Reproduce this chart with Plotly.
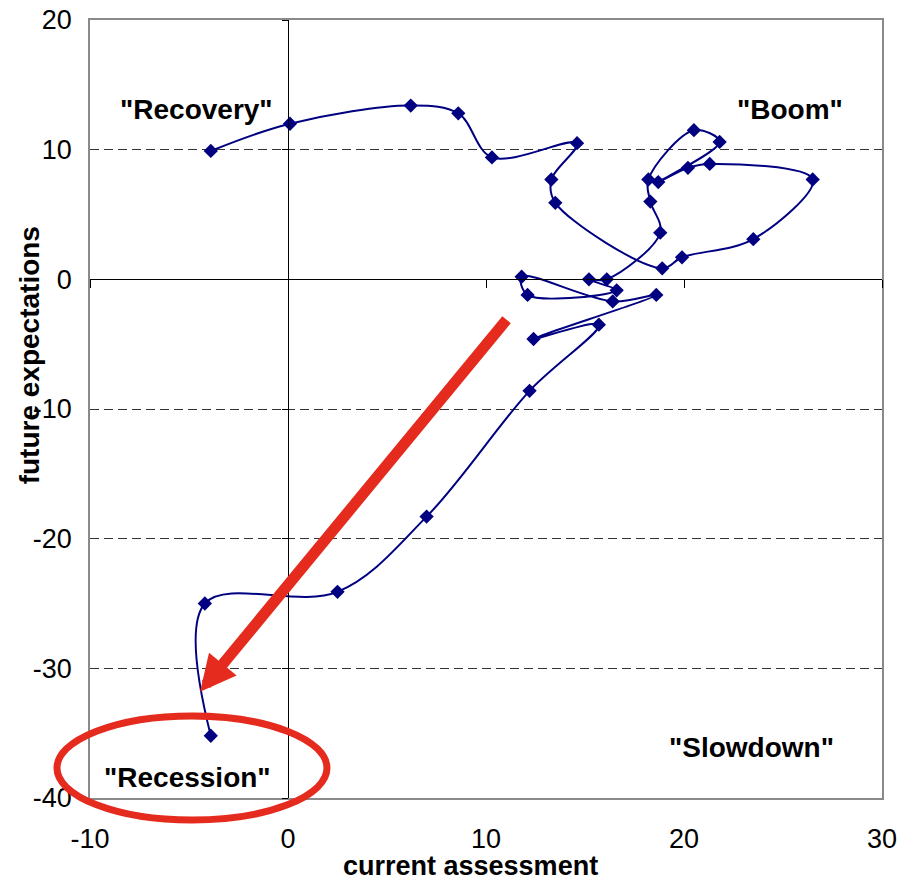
import plotly.graph_objects as go

# ifo business clock path (current assessment, future expectations), in time order
current = [-3.9, 0.1, 6.2, 8.6, 10.3, 14.6, 13.3, 13.5, 18.9, 19.9, 23.5, 26.5,
           21.3, 20.2, 18.7, 21.8, 20.5, 18.2, 18.3, 18.8, 16.1, 15.2, 16.6,
           12.1, 11.8, 16.4, 18.6, 12.4, 15.7, 12.2, 7.0, 2.5, -4.2, -3.9]
future = [9.9, 12.0, 13.4, 12.8, 9.4, 10.5, 7.7, 5.9, 0.85, 1.7, 3.1, 7.7,
          8.9, 8.6, 7.5, 10.6, 11.5, 7.7, 6.0, 3.6, 0.0, 0.0, -0.85,
          -1.2, 0.2, -1.7, -1.2, -4.6, -3.5, -8.6, -18.3, -24.1, -25.0, -35.2]

phase_names = ['"Recovery"', '"Boom"', '"Slowdown"', '"Recession"']
phase_x = [-4.6, 25.35, 23.4, -5.1]
phase_y = [13.1, 13.1, -36.1, -38.4]

x_ticks = [-10, 0, 10, 20, 30]
x_labels = ['-10', '0', '10', '20', '30']
y_ticks = [-40, -30, -20, -10, 0, 10, 20]
y_labels = ['-40', '-30', '-20', '-10', '0', '10', '20']

FONT = "Liberation Sans Narrow, Arial Narrow, Liberation Sans, Arial"
RED = '#E52B1E'

fig = go.Figure()

fig.add_trace(go.Scatter(
    x=current, y=future,
    mode='lines+markers',
    line=dict(color='#000080', width=2, shape='spline', smoothing=1),
    marker=dict(symbol='diamond', size=11, color='#000080'),
    showlegend=False, hoverinfo='x+y'
))

# empty trace so the crossing axes (through the origin) get drawn
fig.add_trace(go.Scatter(x=[], y=[], xaxis='x2', yaxis='y2',
                         showlegend=False, hoverinfo='skip'))

for name, px, py in zip(phase_names, phase_x, phase_y):
    fig.add_annotation(x=px, y=py, text='<b>%s</b>' % name, showarrow=False,
                       font=dict(family=FONT, size=28, color='black'))

# red arrow pointing into recession
fig.add_annotation(x=-4.44, y=-31.8, ax=11.1, ay=-3.0, axref='x', ayref='y',
                   text='', showarrow=True, arrowhead=2, arrowsize=0.65,
                   arrowwidth=11, arrowcolor=RED)

# axis titles
fig.add_annotation(x=0.481, y=-0.088, xref='paper', yref='paper',
                   xanchor='center', yanchor='middle',
                   text='<b>current assessment</b>', showarrow=False,
                   font=dict(family=FONT, size=27, color='black'))
fig.add_annotation(x=-0.077, y=0.569, xref='paper', yref='paper',
                   xanchor='center', yanchor='middle',
                   text='<b>future expectations</b>', showarrow=False, textangle=-90,
                   font=dict(family=FONT, size=28, color='black'))

# circle round "Recession"
fig.add_shape(type='circle', xref='paper', yref='paper',
              x0=-0.0417, x1=0.2992, y0=-0.0283, y1=0.1054,
              line=dict(color=RED, width=7))

# page body adds an 8px offset, so the figure is sized to fit inside it
fig.update_layout(
    width=894, height=872,
    paper_bgcolor='white', plot_bgcolor='white',
    margin=dict(l=82, r=20, t=12, b=82),
    xaxis=dict(range=[-10, 30], tickvals=x_ticks, ticktext=x_labels,
               showgrid=False, zeroline=False, automargin=False,
               showline=True, mirror=True, linecolor='#8a8a8a', linewidth=1.5,
               ticks='', ticklabelstandoff=16, ticklabeloverflow='allow',
               tickfont=dict(family=FONT, size=27, color='black')),
    yaxis=dict(range=[-40, 20], tickvals=y_ticks, ticktext=y_labels, showgrid=True,
               gridcolor='#333333', gridwidth=1, griddash='9px,5px', zeroline=False,
               automargin=False,
               showline=True, mirror=True, linecolor='#8a8a8a', linewidth=1.5,
               ticks='', ticklabelstandoff=11, ticklabeloverflow='allow',
               tickfont=dict(family=FONT, size=27, color='black')),
    xaxis2=dict(range=[-10, 30], overlaying='x', anchor='free', position=2 / 3,
                tickvals=x_ticks, showgrid=False, zeroline=False, showline=True,
                automargin=False,
                linecolor='black', linewidth=1, ticks='outside', ticklen=8,
                tickcolor='black', showticklabels=False),
    yaxis2=dict(range=[-40, 20], overlaying='y', anchor='free', position=0.25,
                tickvals=y_ticks, showgrid=False, zeroline=False, showline=True,
                automargin=False,
                linecolor='black', linewidth=1, ticks='outside', ticklen=6,
                tickcolor='black', showticklabels=False),
)

fig.write_html("out.html")
